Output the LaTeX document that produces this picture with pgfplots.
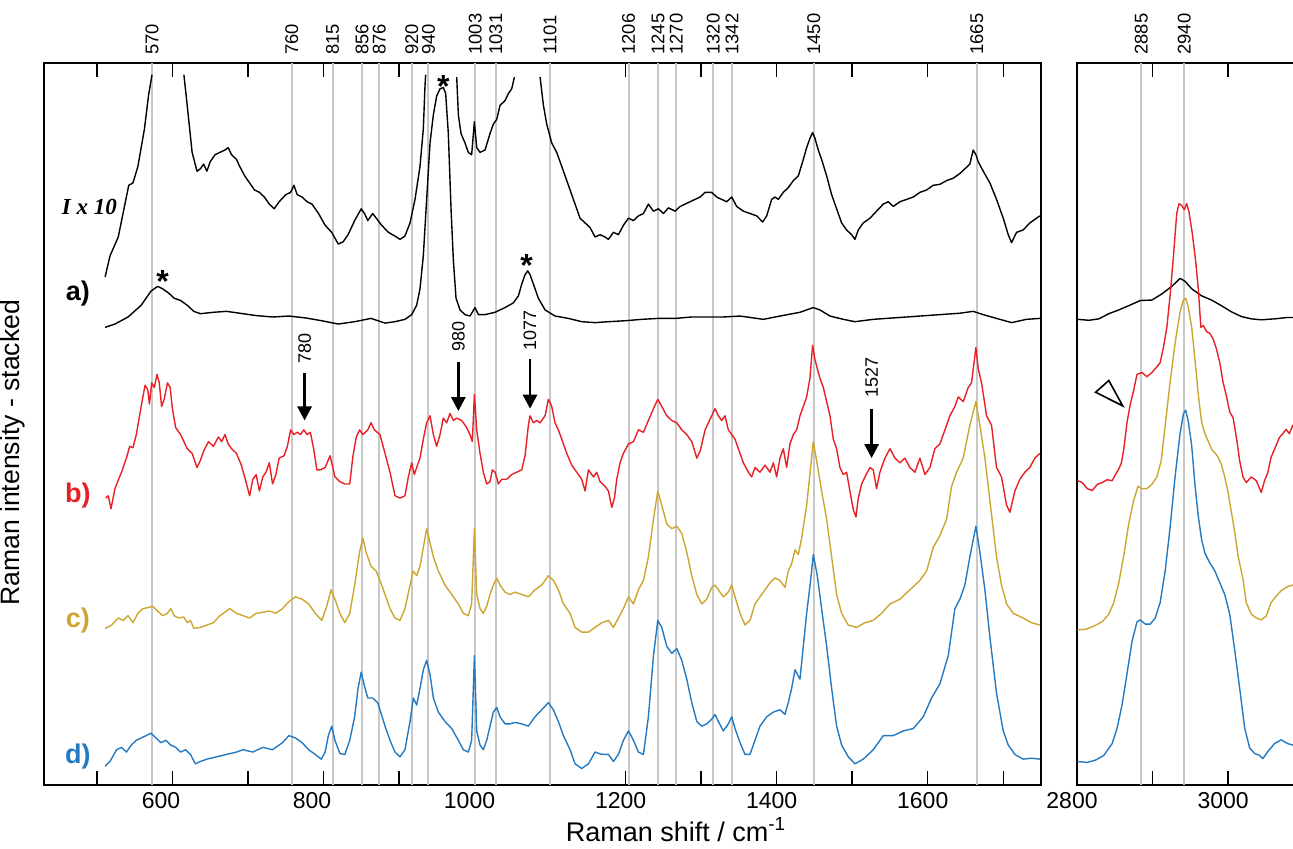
\documentclass[border=0pt]{standalone}
\usepackage{pgfplots}
\pgfplotsset{compat=1.18}
\usepackage{fontspec}
\setmainfont{Liberation Sans}
\newfontfamily\serifbi{Liberation Serif}
\usetikzlibrary{arrows.meta}

\definecolor{cred}{RGB}{232,32,38}
\definecolor{cgold}{RGB}{204,166,48}
\definecolor{cblue}{RGB}{36,122,194}
\definecolor{cgrid}{RGB}{200,200,200}

\pgfplotsset{
  spec/.style={
    scale only axis, height=361pt,
    ymin=0, ymax=1535, ytick=\empty,
    tick align=inside, xtick pos=both,
    major tick length=7pt, minor tick length=7pt,
    tick style={black, line width=0.75pt},
    axis line style={black, line width=0.75pt},
    clip mode=individual, unbounded coords=jump,
    tick label style={font=\fontsize{11.5}{13}\selectfont},
    xticklabel style={xshift=-2.5pt},
    /pgf/number format/1000 sep={},
    /pgf/number format/assume math mode=true,
    every axis plot/.append style={line width=0.7pt, line join=round},
  },
  gline/.style={ycomb, cgrid, line width=1pt, forget plot},
}
\tikzset{
  toplab/.style={rotate=90, anchor=west, inner sep=0pt, font=\fontsize{9.2}{10}\selectfont},
  arr/.style={-{Triangle[width=7pt,length=7pt]}, line width=1.4pt},
  star/.style={anchor=base, inner sep=0pt, yshift=-9pt, font=\fontsize{16}{16}\bfseries},
  tag/.style={anchor=center, font=\fontsize{13.5}{14}\bfseries},
}

\begin{document}
\begin{tikzpicture}
\useasboundingbox (-22pt,-32pt) rectangle (624.5pt,392.5pt);

% ---------- left panel: 430 - 1750 cm-1
\begin{axis}[spec, name=L, at={(0,0)}, width=498.5pt,
    xmin=430, xmax=1750,
    xtick={600,800,...,1600}, minor xtick={500,700,...,1700},
    xticklabels={600\hphantom{0},800\hphantom{0},1000,1200,1400,1600}]

\addplot[gline] coordinates {(573,1535) (758,1535) (812,1535) (851,1535) (874,1535)
  (917,1535) (939,1535) (1001,1535) (1028,1535) (1100,1535) (1204,1535) (1243,1535)
  (1267,1535) (1316,1535) (1341,1535) (1449,1535) (1665,1535)};

% I x 10 trace
\addplot[black] coordinates {
 (510.9,1080) (517.4,1125) (528.3,1165) (542.2,1275) (547.8,1280) (554.3,1315) (563.0,1395)
 (568.3,1465) (573.0,1510) (590,nan)
 (615.2,1510) (619.6,1445) (626.1,1345) (632.6,1305) (637,1310) (641.3,1320) (645.7,1305)
 (650,1325) (656.5,1340) (663,1345) (669.6,1350) (673.9,1355) (678.3,1340) (684.8,1330)
 (689.1,1315) (695.7,1295) (702.2,1280) (708.7,1265) (715.2,1260) (721.7,1250) (728.3,1235)
 (734.8,1225) (741.3,1240) (750,1255) (756.5,1260) (760.9,1275) (765.2,1255) (771.7,1250)
 (778.3,1240) (784.8,1235) (793.5,1215) (802.2,1190) (810.9,1175) (819.6,1150) (826.1,1155)
 (832.6,1170) (841.3,1200) (850,1225) (854.3,1215) (858.7,1200) (865.2,1215) (877,1190)
 (885.9,1175) (894.7,1167) (901.3,1160) (907.9,1167) (914.6,1195) (921.2,1245) (927.8,1315)
 (932.2,1395) (934.4,1485) (935.3,1510) (950,nan)
 (976.4,1505) (978.6,1425) (982.1,1385) (987.4,1365) (991.8,1345) (996.2,1340) (999.8,1410)
 (1002.9,1355) (1007.3,1345) (1013.9,1350) (1020.5,1385) (1024.9,1405) (1029.4,1415)
 (1033.8,1445) (1040.4,1455) (1044.8,1470) (1049.2,1480) (1052.8,1505) (1070,nan)
 (1086.8,1505) (1091.2,1445) (1095.6,1405) (1102.2,1365) (1108.8,1345) (1115.5,1315)
 (1122.1,1285) (1128.7,1255) (1133.1,1235) (1139.7,1205) (1146.4,1195) (1153,1185)
 (1159.6,1165) (1166.2,1170) (1172.8,1165) (1177.3,1160) (1183.9,1175) (1190.5,1170)
 (1197.1,1190) (1203.8,1205) (1210.4,1200) (1217,1210) (1223.6,1215) (1230.2,1235)
 (1236.9,1220) (1243.5,1225) (1250.1,1215) (1256.7,1227) (1265.6,1220) (1272.2,1230)
 (1278.8,1235) (1285.4,1240) (1292,1245) (1298.7,1250) (1305.3,1260) (1314,1260)
 (1320.6,1250) (1327.2,1245) (1333.8,1240) (1340.5,1250) (1347.1,1230) (1355.9,1220)
 (1364.7,1215) (1373.5,1210) (1381.5,1197) (1386.8,1210) (1393.4,1245) (1397.8,1250)
 (1402.2,1245) (1408.8,1260) (1415.4,1270) (1422.1,1285) (1428.7,1295) (1435.3,1330)
 (1439.7,1355) (1444.1,1375) (1447.6,1387) (1450.7,1375) (1455.1,1350) (1459.5,1330)
 (1466.2,1295) (1472.8,1255) (1479.4,1225) (1486,1195) (1492.6,1180) (1499.2,1170)
 (1503.7,1160) (1508.1,1180) (1514.7,1195) (1523.5,1205) (1532.3,1220) (1541.2,1235)
 (1547.8,1240) (1554.4,1230) (1563.2,1240) (1572,1245) (1580.9,1250) (1589.7,1260)
 (1598.5,1265) (1607.3,1275) (1616.1,1277) (1625,1285) (1633.8,1290) (1642.6,1300)
 (1649.2,1310) (1655.8,1320) (1660.2,1350) (1663.8,1340) (1666.9,1325) (1673.5,1305)
 (1682.3,1280) (1691.1,1245) (1700,1205) (1706.6,1170) (1711,1153) (1717.6,1175)
 (1726.4,1180) (1735.2,1195) (1744,1205) (1748.5,1210)};

% a)
\addplot[black] coordinates {
 (510.9,973) (523.9,980) (541.3,995) (558.7,1020) (571.7,1050) (580.4,1060) (587,1055)
 (595.7,1045) (602.2,1035) (610.9,1030) (619.6,1020) (628.3,1007) (637,1002) (654.3,1005)
 (671.7,1007) (689.1,1003) (710.9,998) (732.6,995) (754.3,997) (776.1,993) (797.8,987)
 (819.6,980) (841.3,985) (863,992) (881.5,982) (894.7,985) (907.9,990) (916.8,1000)
 (923.4,1020) (927.8,1055) (932.2,1125) (936.6,1245) (941.1,1365) (945.5,1425) (949.9,1465)
 (954.3,1480) (958.7,1483) (961.8,1470) (965.3,1385) (968.9,1225) (972,1115) (975.5,1035)
 (980.8,1010) (987.4,1000) (994,997) (1000.7,1015) (1005.1,1000) (1013.9,1000) (1027.2,1005)
 (1040.4,1015) (1051.4,1025) (1058.1,1040) (1062.5,1065) (1066.9,1085) (1070.4,1093)
 (1073.5,1085) (1077.9,1065) (1084.5,1035) (1093.4,1010) (1106.6,997) (1124.3,992)
 (1141.9,985) (1159.6,983) (1177.3,985) (1199.3,987) (1221.4,990) (1243.5,992) (1265.6,992)
 (1287.6,995) (1329.4,995) (1351.5,997) (1382.4,990) (1404.4,997) (1430.9,1005) (1439.7,1010)
 (1448.5,1015) (1457.3,1010) (1470.6,997) (1488.2,990) (1503.7,985) (1527.9,990) (1572,995)
 (1616.1,1000) (1642.6,1003) (1660.2,1007) (1673.5,1000) (1695.5,990) (1711,983)
 (1730.8,990) (1748.5,992)};

% b)
\addplot[cred] coordinates {
 (511.7,610) (515.2,615) (518.7,587) (523.9,630) (532.6,665) (539.1,695) (543.5,720)
 (547.8,717) (552.2,745) (556.5,785) (560.9,825) (563.9,850) (567.4,840) (569.6,810)
 (572.6,855) (576.1,845) (579.6,873) (582.6,855) (585.7,805) (589.1,820) (593.5,855)
 (597,845) (600,800) (604.3,760) (610.9,745) (619.6,715) (626.1,705) (632.6,675) (637,690)
 (641.3,710) (647.8,730) (654.3,720) (660.9,740) (665.2,730) (669.6,745) (673.9,725)
 (678.3,715) (684.8,705) (691.3,680) (695.7,655) (702.2,615) (706.5,650) (710.9,660)
 (715.2,625) (719.6,655) (723.9,665) (728.3,685) (732.6,640) (737,660) (741.3,695)
 (747.8,700) (752.2,720) (756.5,755) (760.9,745) (765.2,750) (769.6,745) (773.9,755)
 (778.3,745) (782.6,750) (787,715) (791.3,670) (795.7,670) (802.2,675) (808.7,700)
 (811.7,680) (815.2,655) (821.7,645) (828.3,640) (834.8,640) (839.1,700) (843.5,740)
 (847.8,755) (852.2,745) (858.7,755) (863,770) (867.4,755) (874.8,745) (881.5,705)
 (888.1,665) (894.7,615) (901.3,610) (907.9,615) (912.4,655) (916.8,685) (920.3,660)
 (923.4,675) (927.8,695) (932.2,735) (936.6,770) (941.1,785) (945.5,745) (949.9,720)
 (954.3,745) (958.7,780) (963.1,770) (967.5,790) (972,775) (976.4,780) (983,775)
 (989.6,760) (994,745) (997.1,730) (999.8,830) (1002.9,755) (1007.3,705) (1011.7,665)
 (1016.1,640) (1020.5,645) (1023.6,670) (1027.2,665) (1031.6,640) (1036,650) (1042.6,650)
 (1049.2,660) (1055.9,665) (1062.5,670) (1066.9,700) (1071.3,765) (1073.5,785) (1077.9,770)
 (1082.3,775) (1086.8,770) (1093.4,785) (1097.8,820) (1102.2,805) (1106.6,770) (1111,755)
 (1115.5,735) (1122.1,705) (1128.7,680) (1135.3,665) (1141.9,650) (1146.4,625) (1150.8,670)
 (1157.4,655) (1161.8,665) (1166.2,645) (1172.8,635) (1177.3,625) (1181.7,590) (1185.2,610)
 (1188.3,650) (1192.7,685) (1197.1,705) (1203.8,725) (1210.4,730) (1217,755) (1223.6,750)
 (1230.2,775) (1236.9,800) (1242.6,820) (1247.9,805) (1254.5,785) (1261.1,775) (1267.8,770)
 (1274.4,755) (1281,745) (1287.6,730) (1294.3,695) (1298.7,710) (1305.3,755) (1314,785)
 (1318.4,800) (1322.8,785) (1327.2,775) (1331.6,785) (1336,755) (1340.5,745) (1344.9,735)
 (1349.3,715) (1355.9,685) (1362.5,665) (1366.9,655) (1371.3,675) (1377.9,665) (1384.6,680)
 (1391.2,665) (1395.6,685) (1400,655) (1404.4,695) (1408.8,715) (1413.2,675) (1417.6,725)
 (1422.1,745) (1426.5,755) (1430.9,785) (1435.3,805) (1439.7,825) (1444.1,865) (1447.6,935)
 (1450.7,905) (1453.8,885) (1457.3,865) (1461.8,845) (1466.2,815) (1470.6,785) (1475,735)
 (1479.4,715) (1483.8,675) (1488.2,660) (1492.6,665) (1497,625) (1501.5,585) (1505,570)
 (1508.1,610) (1512.5,640) (1516.9,655) (1523.5,675) (1527.9,670) (1532.3,630) (1536.7,665)
 (1543.4,695) (1550,715) (1556.6,695) (1563.2,685) (1569.8,695) (1576.4,675) (1583.1,665)
 (1589.7,695) (1596.3,660) (1602.9,675) (1609.5,715) (1616.1,725) (1622.8,755) (1629.4,785)
 (1636,805) (1640.4,825) (1647,815) (1653.6,845) (1658,855) (1663.8,930) (1666.9,885)
 (1671.3,855) (1677.9,785) (1684.5,765) (1691.1,675) (1697.7,655) (1704.4,595) (1708.8,580)
 (1715.4,625) (1722,650) (1728.6,665) (1735.2,675) (1741.8,695) (1748.5,705)};

% c)
\addplot[cgold] coordinates {
 (510.9,333) (519.6,340) (528.3,355) (534.8,350) (541.3,360) (547.8,345) (554.3,365)
 (560.9,375) (567.4,377) (573.9,380) (580.4,370) (587,360) (593.5,365) (597.8,375)
 (602.2,360) (608.7,355) (615.2,357) (619.6,345) (623.9,350) (628.3,333) (637,335)
 (645.7,340) (654.3,345) (663,360) (676.1,375) (684.8,365) (693.5,360) (702.2,355)
 (710.9,365) (719.6,367) (728.3,370) (737,365) (745.7,375) (754.3,390) (763,400)
 (771.7,395) (780.4,385) (789.1,365) (797.8,350) (804.3,380) (810,415) (815.2,395)
 (821.7,365) (828.3,345) (834.8,365) (841.3,425) (847.8,495) (852.2,525) (856.5,495)
 (863,465) (869.6,455) (874.8,435) (881.5,405) (888.1,375) (894.7,355) (901.3,350)
 (907.9,375) (914.6,425) (919,455) (923.4,445) (927.8,465) (932.2,505) (936.6,545)
 (941.1,515) (945.5,485) (952.1,455) (960.9,425) (969.8,405) (978.6,385) (985.2,365)
 (991.8,360) (996.2,385) (999.8,545) (1002.9,405) (1007.3,375) (1011.7,365) (1016.1,380)
 (1020.5,405) (1024.9,425) (1029.4,440) (1033.8,425) (1040.4,410) (1047,405) (1053.6,410)
 (1062.5,405) (1071.3,400) (1080.1,415) (1089,425) (1097.8,445) (1104.4,435) (1111,415)
 (1117.7,385) (1126.5,365) (1133.1,335) (1141.9,325) (1150.8,325) (1159.6,335) (1168.4,345)
 (1177.3,350) (1183.9,335) (1190.5,355) (1197.1,375) (1203.8,400) (1210.4,385) (1217,415)
 (1223.6,435) (1230.2,485) (1236.9,565) (1242.6,625) (1247.9,595) (1254.5,555) (1261.1,545)
 (1267.8,550) (1274.4,535) (1281,495) (1287.6,445) (1294.3,405) (1300.9,385) (1307.5,395)
 (1314,420) (1318.4,425) (1322.8,415) (1329.4,400) (1336,410) (1340.5,425) (1344.9,400)
 (1351.5,365) (1358.1,340) (1364.7,350) (1371.3,385) (1377.9,400) (1384.6,415) (1391.2,430)
 (1397.8,440) (1404.4,435) (1411,420) (1415.4,455) (1419.8,470) (1424.3,500) (1428.7,490)
 (1433.1,525) (1439.7,595) (1445,675) (1448.5,730) (1452.9,690) (1459.5,625) (1466.2,565)
 (1472.8,485) (1479.4,405) (1486,365) (1494.8,340) (1505.9,335) (1516.9,345) (1527.9,350)
 (1538.9,365) (1550,385) (1563.2,395) (1576.4,415) (1589.7,435) (1598.5,455) (1607.3,505)
 (1616.1,530) (1625,565) (1631.6,635) (1638.2,665) (1647,695) (1655.8,765) (1663.8,815)
 (1669.1,765) (1675.7,695) (1682.3,605) (1691.1,485) (1697.7,425) (1704.4,385) (1713.2,365)
 (1726.4,355) (1737.4,345) (1748.5,340)};

% d)
\addplot[cblue] coordinates {
 (510.9,40) (517.4,50) (526.1,75) (532.6,80) (539.1,70) (545.7,85) (552.2,95) (558.7,100)
 (565.2,105) (571.7,110) (578.3,100) (584.8,90) (591.3,95) (597.8,85) (604.3,80) (610.9,70)
 (617.4,75) (623.9,65) (630.4,45) (637,50) (645.7,55) (658.7,60) (671.7,65) (684.8,70)
 (693.5,75) (706.5,70) (719.6,80) (732.6,75) (745.7,90) (754.3,105) (763,100) (771.7,90)
 (780.4,75) (789.1,65) (797,55) (802.2,70) (806.5,105) (810.9,125) (815.2,95) (821.7,67)
 (828.3,65) (834.8,95) (841.3,145) (845.7,205) (850,240) (854.3,210) (858.7,185) (865.2,185)
 (871.7,175) (874.8,160) (881.5,125) (888.1,95) (894.7,70) (901.3,60) (907.9,75) (914.6,135)
 (919,185) (923.4,170) (927.8,205) (932.2,245) (936.6,265) (941.1,235) (945.5,185)
 (952.1,155) (960.9,135) (969.8,120) (978.6,95) (985.2,75) (991.8,70) (996.2,95) (999.8,275)
 (1002.9,115) (1007.3,85) (1011.7,75) (1016.1,95) (1020.5,125) (1024.9,155) (1029.4,165)
 (1033.8,145) (1040.4,130) (1047,130) (1053.6,133) (1062.5,130) (1071.3,125) (1080.1,145)
 (1089,160) (1097.8,175) (1104.4,160) (1111,135) (1117.7,105) (1126.5,75) (1133.1,45)
 (1141.9,35) (1150.8,45) (1159.6,70) (1168.4,65) (1177.3,65) (1183.9,50) (1190.5,65)
 (1197.1,95) (1203.8,115) (1210.4,95) (1217,70) (1223.6,65) (1230.2,145) (1236.9,275)
 (1242.6,350) (1247.9,335) (1254.5,295) (1261.1,280) (1267.8,290) (1274.4,265) (1281,225)
 (1287.6,175) (1294.3,135) (1300.9,125) (1307.5,130) (1314,140) (1318.4,150) (1322.8,135)
 (1329.4,115) (1336,130) (1340.5,145) (1344.9,120) (1351.5,90) (1358.1,65) (1364.7,65)
 (1371.3,95) (1377.9,125) (1386.8,145) (1395.6,155) (1404.4,160) (1411,150) (1415.4,175)
 (1419.8,205) (1424.3,245) (1430.9,225) (1435.3,295) (1439.7,365) (1445,435) (1448.5,490)
 (1453.8,445) (1459.5,375) (1466.2,295) (1472.8,205) (1479.4,125) (1486,85) (1494.8,60)
 (1503.7,45) (1514.7,55) (1527.9,75) (1541.2,105) (1554.4,105) (1567.6,115) (1580.9,120)
 (1594.1,145) (1605.1,185) (1616.1,215) (1627.2,275) (1636,375) (1642.6,395) (1649.2,425)
 (1655.8,485) (1663.8,550) (1669.1,495) (1675.7,415) (1682.3,315) (1691.1,195) (1700,115)
 (1706.6,85) (1715.4,65) (1726.4,55) (1737.4,57) (1748.5,55)};

% peak labels above the frame
\foreach \p/\l in {573/570,758/760,812/815,851/856,874/876,917/920,939/940,1001/1003,
  1028/1031,1100/1101,1204/1206,1243/1245,1267/1270,1316/1320,1341/1342,1449/1450,1665/1665}{
  \edef\tmp{\noexpand\node[toplab] at (axis cs:\p,1552) {\l};}\tmp
}

% arrows with band positions
\draw[arr] (axis cs:775,875) -- (axis cs:775,775);
\node[toplab, font=\fontsize{9}{10}\selectfont] at (axis cs:775,895) {780};
\draw[arr] (axis cs:978.6,900) -- (axis cs:978.6,795);
\node[toplab, font=\fontsize{9}{10}\selectfont] at (axis cs:978.6,920) {980};
\draw[arr] (axis cs:1073.5,905) -- (axis cs:1073.5,800);
\node[toplab, font=\fontsize{9}{10}\selectfont] at (axis cs:1073.5,922) {1077};
\draw[arr] (axis cs:1525.7,800) -- (axis cs:1525.7,695);
\node[toplab, font=\fontsize{9}{10}\selectfont] at (axis cs:1525.7,822) {1527};

% asterisks
\node[star] at (axis cs:587,1085) {*};
\node[star] at (axis cs:958.7,1500) {*};
\node[star] at (axis cs:1069,1120) {*};

% trace tags
\node[font=\fontsize{11.5}{12}\serifbi\bfseries\itshape] at (axis cs:490,1229) {I x 10};
\node[tag, text=black] at (axis cs:475,1045) {a)};
\node[tag, text=cred] at (axis cs:475,615) {b)};
\node[tag, text=cgold] at (axis cs:475,350) {c)};
\node[tag, text=cblue] at (axis cs:475,60) {d)};

\node[rotate=90, anchor=south, font=\fontsize{13.3}{15}\selectfont]
  at ([xshift=-6pt]rel axis cs:0,0.46) {Raman intensity - stacked};
\end{axis}

% ---------- right panel: 2800 - 3100 cm-1 (cropped at the page edge)
\begin{axis}[spec, name=R, at={(516.5pt,0)}, width=113.3pt,
    xmin=2800, xmax=3100,
    xtick={2800,3000}, minor xtick={2900,3100}]

\addplot[gline] coordinates {(2885,1535) (2942,1535)};

\addplot[black] coordinates {
 (2800.4,990) (2815.8,988) (2828.9,991) (2842.1,1002) (2855.3,1010) (2868.4,1019)
 (2883.8,1030) (2899.1,1031) (2912.3,1044) (2925.4,1060) (2936.4,1077) (2943,1071)
 (2951.8,1055) (2964.9,1040) (2978.1,1031) (2991.2,1019) (3004.4,1006) (3017.5,996)
 (3030.7,991) (3043.9,989) (3061.4,991) (3078.9,994) (3087.7,994)};

\addplot[cred] coordinates {
 (2800.4,647) (2807,643) (2813.6,630) (2820.2,626) (2826.8,639) (2833.3,643) (2839.9,649)
 (2846.5,647) (2850.9,660) (2855.3,672) (2858.8,685) (2861.9,714) (2866.3,772) (2870.6,810)
 (2875,839) (2879.4,873) (2886,877) (2892.5,868) (2899.1,877) (2905.7,889) (2910.1,898)
 (2914.5,931) (2918.9,973) (2923.2,1040) (2927.6,1123) (2932,1215) (2935.1,1236)
 (2938.6,1232) (2942.1,1223) (2945.2,1236) (2948.2,1219) (2952.6,1173) (2957,1115)
 (2960.5,1056) (2964,973) (2967.1,977) (2971.5,964) (2975.9,960) (2980.3,948) (2984.6,927)
 (2989,898) (2993.4,856) (2997.8,827) (3002.2,793) (3006.6,781) (3011,739) (3015.4,689)
 (3019.7,655) (3024.1,643) (3030.7,655) (3037.3,647) (3043.9,622) (3048.3,647) (3052.6,664)
 (3057,697) (3063.6,722) (3068,739) (3072.4,747) (3076.8,756) (3081.1,747) (3085.5,764)
 (3087.7,768)};

\addplot[cgold] coordinates {
 (2800.4,330) (2811.4,331) (2822.4,338) (2833.3,347) (2842.1,363) (2848.7,388) (2855.3,430)
 (2861.9,488) (2868.4,555) (2875,605) (2880.7,635) (2886,630) (2892.5,630) (2899.1,639)
 (2905.7,655) (2911.4,689) (2916.7,764) (2923.2,856) (2929.8,939) (2936.4,1006) (2940.8,1031)
 (2943.9,1035) (2947.4,1015) (2951.8,973) (2956.1,906) (2960.5,831) (2964.9,772) (2969.3,747)
 (2973.7,731) (2978.1,714) (2982.5,706) (2986.8,697) (2991.2,681) (2995.6,655) (3000,622)
 (3004.4,580) (3008.7,539) (3013.1,488) (3019.7,438) (3024.1,388) (3030.7,363) (3037.3,355)
 (3043.9,351) (3050.4,359) (3057,388) (3063.6,401) (3070.2,413) (3078.9,422) (3087.7,426)};

\addplot[cblue] coordinates {
 (2800.4,50) (2813.6,48) (2824.6,53) (2835.5,63) (2846.5,88) (2853.1,121) (2859.7,171)
 (2866.3,238) (2872.8,305) (2879.4,347) (2883.8,351) (2890.4,342) (2896.9,342) (2903.5,355)
 (2910.1,388) (2916.7,455) (2923.2,547) (2929.8,655) (2936.4,747) (2940.8,789) (2943.9,797)
 (2947.4,772) (2951.8,722) (2956.1,639) (2960.5,572) (2964.9,522) (2969.3,493) (2975.9,472)
 (2982.5,455) (2989,430) (2995.6,405) (3002.2,363) (3008.7,288) (3015.4,205) (3022,121)
 (3028.5,79) (3035.1,67) (3041.7,63) (3046,56) (3052.6,71) (3061.4,88) (3070.2,96)
 (3078.9,88) (3087.7,84)};

\node[toplab] at (axis cs:2885,1552) {2885};
\node[toplab] at (axis cs:2942,1552) {2940};

% open arrowhead marking the shoulder
\draw[line width=0.8pt, line join=miter] (axis cs:2824.6,835) -- (axis cs:2842.1,860)
  -- (axis cs:2860.5,806) -- cycle;
\end{axis}

\node[anchor=base, font=\fontsize{13.5}{15}\selectfont]
  at ([xshift=316pt, yshift=-28pt]L.south west) {Raman shift / cm\textsuperscript{-1}};
\end{tikzpicture}
\end{document}
